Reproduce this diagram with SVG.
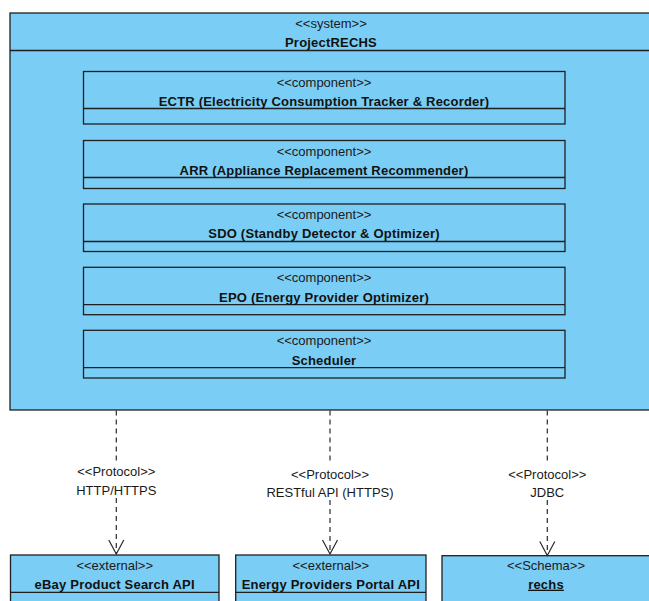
<svg xmlns="http://www.w3.org/2000/svg" width="649" height="601" viewBox="0 0 649 601">
<style>
.box{fill:#7ACDF4;stroke:#1f1f1f;stroke-width:1.3}
.div{stroke:#1f1f1f;stroke-width:1.3;fill:none}
.st{font-family:"Liberation Sans",Arial,sans-serif;font-size:13px;fill:#1a1a1a;text-anchor:middle}
.nm{font-family:"Liberation Sans",Arial,sans-serif;font-size:13px;font-weight:bold;fill:#111;text-anchor:middle;letter-spacing:0.2px}
.conn{stroke:#2a2a2a;stroke-width:1.2;fill:none;stroke-dasharray:5,4}
</style>
<defs>
<marker id="open" markerUnits="userSpaceOnUse" markerWidth="18" markerHeight="18" viewBox="-1 -1 17 18" refX="14" refY="7.5" orient="auto">
<path d="M0,0 L14,7.5 L0,15" fill="none" stroke="#2a2a2a" stroke-width="1.2" stroke-dasharray="none"/>
</marker>
</defs>
<rect width="649" height="601" fill="#ffffff"/>
<g id="system">
<rect class="box" x="10" y="13" width="642" height="397"/>
<line class="div" x1="10" y1="50.5" x2="652" y2="50.5"/>
<text class="st" x="331" y="28">&lt;&lt;system&gt;&gt;</text>
<text class="nm" x="331" y="47">ProjectRECHS</text>
</g>
<g id="ectr">
<rect class="box" x="83.5" y="71.5" width="481.5" height="52.5"/>
<line class="div" x1="83.5" y1="108.5" x2="565" y2="108.5"/>
<text class="st" x="324" y="86.5">&lt;&lt;component&gt;&gt;</text>
<text class="nm" x="324" y="106">ECTR (Electricity Consumption Tracker &amp; Recorder)</text>
</g>
<g id="arr">
<rect class="box" x="83.5" y="140.5" width="481.5" height="48"/>
<line class="div" x1="83.5" y1="177.5" x2="565" y2="177.5"/>
<text class="st" x="324" y="155.5">&lt;&lt;component&gt;&gt;</text>
<text class="nm" x="324" y="175">ARR (Appliance Replacement Recommender)</text>
</g>
<g id="sdo">
<rect class="box" x="83.5" y="204" width="481.5" height="47.5"/>
<line class="div" x1="83.5" y1="241.5" x2="565" y2="241.5"/>
<text class="st" x="324" y="218.5">&lt;&lt;component&gt;&gt;</text>
<text class="nm" x="324" y="238.3">SDO (Standby Detector &amp; Optimizer)</text>
</g>
<g id="epo">
<rect class="box" x="83.5" y="267.3" width="481.5" height="47.4"/>
<line class="div" x1="83.5" y1="304.7" x2="565" y2="304.7"/>
<text class="st" x="324" y="281.8">&lt;&lt;component&gt;&gt;</text>
<text class="nm" x="324" y="301.6">EPO (Energy Provider Optimizer)</text>
</g>
<g id="scheduler">
<rect class="box" x="83.5" y="330.3" width="481.5" height="47.7"/>
<line class="div" x1="83.5" y1="367.7" x2="565" y2="367.7"/>
<text class="st" x="324" y="344.8">&lt;&lt;component&gt;&gt;</text>
<text class="nm" x="324" y="364.6">Scheduler</text>
</g>
<g id="ebay">
<rect class="box" x="10.5" y="555" width="208.5" height="60"/>
<line class="div" x1="10.5" y1="592.3" x2="219" y2="592.3"/>
<text class="st" x="114.7" y="569.5">&lt;&lt;external&gt;&gt;</text>
<text class="nm" x="114.7" y="588.7">eBay Product Search API</text>
</g>
<g id="energy">
<rect class="box" x="235.7" y="555" width="190.3" height="60"/>
<line class="div" x1="235.7" y1="592.3" x2="426" y2="592.3"/>
<text class="st" x="330.8" y="569.5">&lt;&lt;external&gt;&gt;</text>
<text class="nm" x="330.8" y="588.7">Energy Providers Portal API</text>
</g>
<g id="rechs">
<rect class="box" x="442" y="555.7" width="210" height="60"/>
<text class="st" x="546" y="570">&lt;&lt;Schema&gt;&gt;</text>
<text class="nm" x="546" y="588.7" text-decoration="underline">rechs</text>
</g>
<g id="connectors">
<line class="conn" x1="116.3" y1="410.5" x2="116.3" y2="461"/>
<line class="conn" x1="116.3" y1="498" x2="116.3" y2="554" marker-end="url(#open)"/>
<text class="st" x="116.3" y="476">&lt;&lt;Protocol&gt;&gt;</text>
<text class="st" x="116.3" y="495">HTTP/HTTPS</text>
<line class="conn" x1="330" y1="410.5" x2="330" y2="463"/>
<line class="conn" x1="330" y1="500" x2="330" y2="554" marker-end="url(#open)"/>
<text class="st" x="330" y="478.7">&lt;&lt;Protocol&gt;&gt;</text>
<text class="st" x="330" y="497.3">RESTful API (HTTPS)</text>
<line class="conn" x1="547.3" y1="410.5" x2="547.3" y2="463"/>
<line class="conn" x1="547.3" y1="500" x2="547.3" y2="555.5" marker-end="url(#open)"/>
<text class="st" x="547.3" y="478.7">&lt;&lt;Protocol&gt;&gt;</text>
<text class="st" x="547.3" y="497.3">JDBC</text>
</g>
</svg>
